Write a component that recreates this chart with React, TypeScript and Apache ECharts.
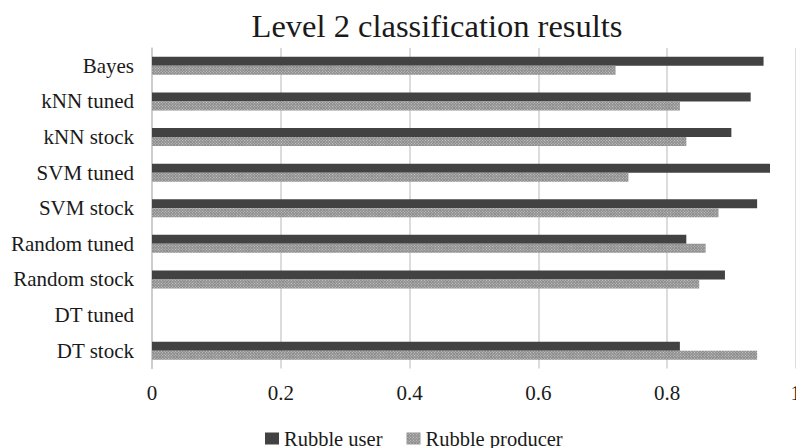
import React, { useEffect, useRef } from "react";
import * as echarts from "echarts";

const categories = ["DT stock", "DT tuned", "Random stock", "Random tuned", "SVM stock", "SVM tuned", "kNN stock", "kNN tuned", "Bayes"];
const rubbleUser = [0.82, 0, 0.89, 0.83, 0.94, 0.96, 0.9, 0.93, 0.95];
const rubbleProducer = [0.94, 0, 0.85, 0.86, 0.88, 0.74, 0.83, 0.82, 0.72];
const seriesNames = ["Rubble user", "Rubble producer"];
const xTicks = { min: 0, max: 1, interval: 0.2 };

const FONT = "'Liberation Serif', 'Times New Roman', serif";

export default function App() {
  const ref = useRef<HTMLDivElement>(null);
  useEffect(() => {
    if (!ref.current) return;
    const chart = echarts.init(ref.current, null, { renderer: "svg" });
    chart.setOption({
      animation: false,
      backgroundColor: "#ffffff",
      title: {
        text: "Level 2 classification results",
        left: 432,
        top: 4,
        textAlign: "center",
        textStyle: { fontFamily: FONT, fontSize: 32.5, fontWeight: "normal", color: "#1a1a1a" },
      },
      legend: {
        left: 265,
        top: 428,
        padding: 0,
        itemWidth: 14,
        itemHeight: 12,
        itemGap: 24,
        icon: "rect",
        textStyle: { fontFamily: FONT, fontSize: 20.5, color: "#1a1a1a" },
        data: seriesNames,
      },
      grid: { left: 152, right: 2, top: 48, height: 320.5, containLabel: false },
      xAxis: {
        type: "value",
        min: xTicks.min,
        max: xTicks.max,
        interval: xTicks.interval,
        axisLine: { show: false },
        axisTick: { show: false },
        axisLabel: {
          fontFamily: FONT,
          fontSize: 21,
          color: "#1a1a1a",
          margin: 14,
          formatter: (v: number) => String(Math.round(v * 10) / 10),
        },
        splitLine: { show: true, lineStyle: { color: "#d0d0d0", width: 1.5 } },
      },
      yAxis: {
        type: "category",
        data: categories,
        axisLine: { show: true, lineStyle: { color: "#c8c8c8", width: 1.5 } },
        axisTick: { show: false },
        axisLabel: { fontFamily: FONT, fontSize: 21, color: "#1a1a1a", margin: 18 },
      },
      series: [
        {
          name: seriesNames[0],
          type: "bar",
          data: rubbleUser,
          barWidth: 9,
          barGap: "0%",
          itemStyle: { color: "#424242", borderWidth: 0 },
        },
        {
          name: seriesNames[1],
          type: "bar",
          data: rubbleProducer,
          barWidth: 9,
          barGap: "0%",
          itemStyle: {
            color: "#8c8c8c",
            borderWidth: 0,
            decal: {
              symbol: "rect",
              symbolSize: 1,
              dashArrayX: [1, 1],
              dashArrayY: [1, 1],
              rotation: 0.785,
              color: "rgba(255,255,255,0.55)",
            },
          },
        },
      ],
    });
    return () => chart.dispose();
  }, []);
  return <div ref={ref} style={{ width: 804, height: 448, marginLeft: -8, marginTop: -8 }} />;
}
